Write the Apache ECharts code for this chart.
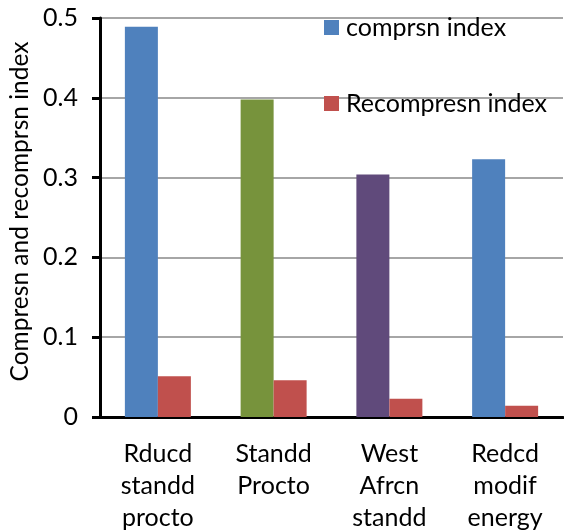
<!DOCTYPE html>
<html>
<head>
<meta charset="utf-8">
<script src="https://cdn.jsdelivr.net/npm/echarts@6/dist/echarts.min.js"></script>
<style>
  html, body { margin: 0; padding: 0; background: #fff; }
  #chart { width: 564px; height: 532px; }
</style>
</head>
<body>
<div id="chart"></div>
<script>
// Category labels (multi-line)
const categories = [
  'Rducd\nstandd\nprocto',
  'Standd\nProcto',
  'West\nAfrcn\nstandd',
  'Redcd\nmodif\nenergy'
];
// Series values
const compressionIndex = [0.489, 0.398, 0.304, 0.323];
const recompressionIndex = [0.051, 0.046, 0.023, 0.014];
// Per-category fill for the first series
const compressionColors = ['#4F81BD', '#77933C', '#604A7B', '#4F81BD'];
// Y ticks
const yMin = 0, yMax = 0.5, yStep = 0.1;

const FONT = 'Lato, "Open Sans", sans-serif';
const chart = echarts.init(document.getElementById('chart'), null, { renderer: 'canvas' });

chart.setOption({
  animation: false,
  backgroundColor: '#ffffff',
  grid: {
    left: 100, right: 1, top: 18, bottom: 115,
    containLabel: false, outerBoundsMode: 'none'
  },
  legend: {
    orient: 'vertical',
    left: 319,
    top: 10,
    itemWidth: 15,
    itemHeight: 15,
    itemGap: 51,
    icon: 'rect',
    textStyle: { fontFamily: FONT, fontSize: 25, color: '#000', padding: [0, 0, 0, 2] },
    data: ['comprsn index', 'Recompresn index']
  },
  xAxis: {
    type: 'category',
    data: categories,
    axisLine: { lineStyle: { color: '#000', width: 3 } },
    axisTick: { length: 8, lineStyle: { color: '#000', width: 3 } },
    axisLabel: {
      color: '#000', fontFamily: FONT, fontSize: 25, lineHeight: 32, margin: 21
    }
  },
  yAxis: {
    type: 'value',
    min: yMin, max: yMax, interval: yStep,
    name: 'Compresn and recomprsn index',
    nameLocation: 'middle',
    nameGap: 60,
    nameTextStyle: { fontFamily: FONT, fontSize: 24.5, color: '#000', padding: [0, 0, 0, 12] },
    axisLine: { show: true, lineStyle: { color: '#000', width: 3 } },
    axisTick: { show: true, length: 8, lineStyle: { color: '#000', width: 3 } },
    axisLabel: {
      color: '#000', fontFamily: FONT, fontSize: 25, margin: 22,
      formatter: v => (v === 0 ? '0' : v.toFixed(1))
    },
    splitLine: { lineStyle: { color: '#898989', width: 1.5 } }
  },
  series: [
    {
      name: 'comprsn index',
      type: 'bar',
      barWidth: 33,
      barGap: '0%',
      itemStyle: { color: compressionColors[0] },
      data: compressionIndex.map((v, i) => ({ value: v, itemStyle: { color: compressionColors[i] } }))
    },
    {
      name: 'Recompresn index',
      type: 'bar',
      barWidth: 33,
      barGap: '0%',
      itemStyle: { color: '#C0504D' },
      data: recompressionIndex
    }
  ]
});
</script>
</body>
</html>
